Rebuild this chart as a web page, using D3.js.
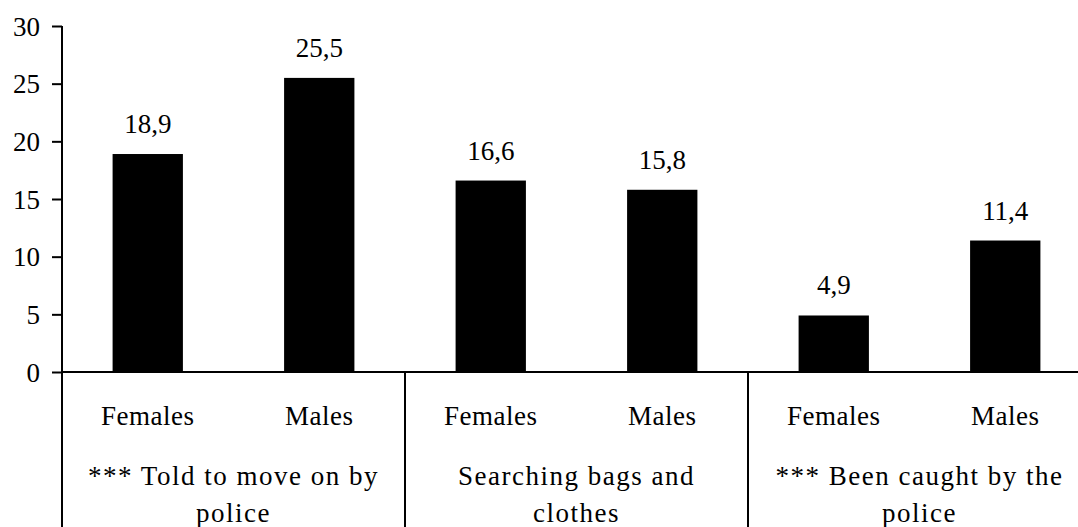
<!DOCTYPE html>
<html><head><meta charset="utf-8">
<script src="https://cdn.jsdelivr.net/npm/d3@7"></script>
<style>
html,body{margin:0;padding:0;background:#fff;}
svg{display:block;}
</style></head>
<body><svg id="c" width="1078" height="527"></svg>
<script>
const groups = ["g1","g2","g3"];
const groupLabels = [["*** Told to move on by","police"],["Searching bags and","clothes"],["*** Been caught by the","police"]];
const categories = ["Females","Males"];
const values = [18.9, 25.5, 16.6, 15.8, 4.9, 11.4];
const valueLabels = ["18,9","25,5","16,6","15,8","4,9","11,4"];
const yTicks = [0,5,10,15,20,25,30];

const FONT = "Liberation Serif";
const svg = d3.select("#c");
const x0 = 62, x1 = 1091, yBase = 372, yTop = 26;
const H = 527;

const slots = [];
groups.forEach(g=>categories.forEach(c=>slots.push(g+"_"+c)));
const xGroup = d3.scaleBand().domain(groups).range([x0,x1]).padding(0);
const xSlot = d3.scaleBand().domain(slots).range([x0,x1]).paddingInner(0.59).paddingOuter(0.295);
const y = d3.scaleLinear().domain([0,30]).range([yBase,yTop]);

const data = slots.map((s,i)=>({key:s, v:values[i], label:valueLabels[i], cat:categories[i%2]}));

svg.selectAll("rect.bar").data(data).join("rect")
  .attr("class","bar")
  .attr("x",d=>xSlot(d.key)).attr("width",xSlot.bandwidth())
  .attr("y",d=>y(d.v)).attr("height",d=>yBase-y(d.v))
  .attr("fill","#000");

svg.selectAll("text.val").data(data).join("text")
  .attr("class","val")
  .attr("x",d=>xSlot(d.key)+xSlot.bandwidth()/2)
  .attr("y",d=>y(d.v)-21)
  .attr("text-anchor","middle")
  .style("font-family",FONT).style("font-size","27px").attr("fill","#000")
  .text(d=>d.label);

const yAxis = d3.axisLeft(y).tickValues(yTicks).tickSize(10).tickPadding(12).tickFormat(d3.format("d"));
const ya = svg.append("g").attr("transform",`translate(${x0},0)`).call(yAxis);
ya.attr("font-family",null).attr("font-size",null);
ya.select(".domain").remove();
ya.selectAll(".tick line").attr("stroke","#000").attr("stroke-width",2);
ya.selectAll(".tick text").style("font-family",FONT).style("font-size","27px").attr("fill","#000").attr("dy","0.34em");

svg.append("line").attr("x1",x0).attr("x2",x0).attr("y1",y(30)).attr("y2",H)
  .attr("stroke","#000").attr("stroke-width",2);
svg.append("line").attr("x1",x0).attr("x2",x1).attr("y1",yBase).attr("y2",yBase)
  .attr("stroke","#000").attr("stroke-width",2);
groups.slice(1).forEach(g=>{
  svg.append("line").attr("x1",xGroup(g)).attr("x2",xGroup(g)).attr("y1",yBase).attr("y2",H)
    .attr("stroke","#000").attr("stroke-width",2);
});

svg.selectAll("text.cat").data(data).join("text")
  .attr("class","cat")
  .attr("x",d=>xSlot(d.key)+xSlot.bandwidth()/2)
  .attr("y",425)
  .attr("text-anchor","middle")
  .style("font-family",FONT).style("font-size","27px").attr("fill","#000")
  .attr("letter-spacing","0.5px")
  .text(d=>d.cat);

groups.forEach((g,gi)=>{
  const cx = xGroup(g)+xGroup.bandwidth()/2;
  const t = svg.append("text")
    .attr("x",cx).attr("y",485)
    .attr("text-anchor","middle")
    .style("font-family",FONT).style("font-size","27px").attr("fill","#000")
    .attr("letter-spacing","1.5px");
  groupLabels[gi].forEach((line,li)=>{
    t.append("tspan").attr("x",cx).attr("dy",li===0?0:37).text(line);
  });
});
</script></body></html>
